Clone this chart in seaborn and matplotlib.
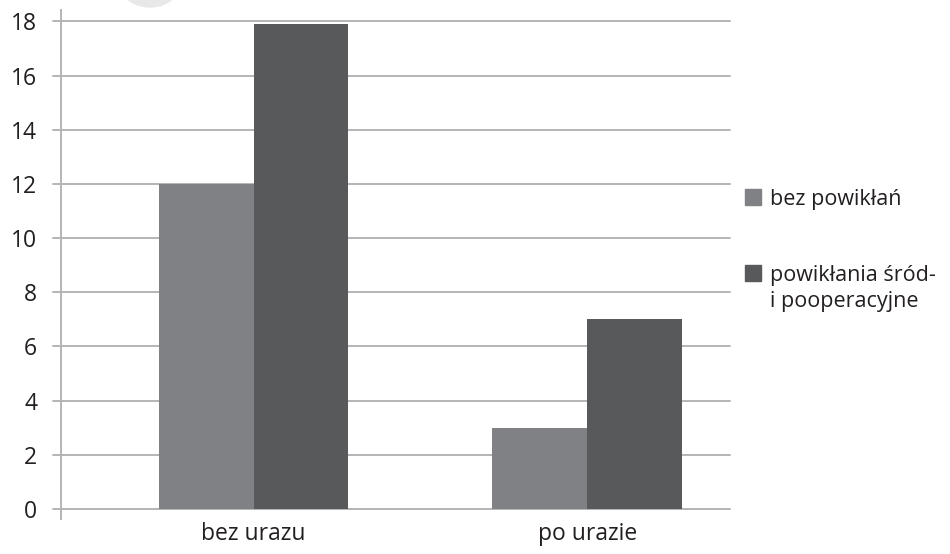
import pandas as pd
import seaborn as sns
import matplotlib.pyplot as plt
from matplotlib.lines import Line2D
from matplotlib.patches import Ellipse

# data
groups = ["bez urazu", "po urazie"]
series = ["bez powikłań", "powikłania śród-\ni pooperacyjne"]
no_compl = [12, 3]
with_compl = [17.9, 7]
yticks = [0, 2, 4, 6, 8, 10, 12, 14, 16, 18]

colors = ["#808184", "#58595b"]
grid_c = "#b4b4b8"

df = pd.DataFrame({
    "group": groups * 2,
    "status": [series[0]] * 2 + [series[1]] * 2,
    "count": no_compl + with_compl,
})

sns.set_style("white")
plt.rcParams["font.family"] = ["Open Sans", "DejaVu Sans"]

fig = plt.figure(figsize=(9.5, 5.54), dpi=100)
ax = fig.add_axes([0.0639, 0.0632, 0.7045, 0.9188])

sns.barplot(
    data=df, x="group", y="count", hue="status",
    palette=colors, saturation=1, width=0.569, gap=0,
    linewidth=0, legend=False, ax=ax, zorder=3,
)

ax.set_xlim(-0.578, 1.428)
ax.set_ylim(-0.37, 18.42)
ax.set_yticks(yticks)
ax.set_xlabel("")
ax.set_ylabel("")

# horizontal gridlines drawn from the left tick to the right end
for v in yticks:
    ax.axhline(v, xmin=-0.012, xmax=1, color=grid_c, lw=1.4, zorder=1, clip_on=False)

for s in ["top", "right", "bottom"]:
    ax.spines[s].set_visible(False)
ax.spines["left"].set_color(grid_c)
ax.spines["left"].set_linewidth(1.4)

ax.tick_params(axis="y", length=0, pad=17, labelsize=16.5, labelcolor="#231f20")
ax.tick_params(axis="x", length=0, pad=2, labelsize=16.5, labelcolor="#231f20")

handles = [Line2D([0], [0], marker="s", ls="", markersize=11, color=c) for c in colors]
leg = fig.legend(
    handles, series, loc="upper left", bbox_to_anchor=(0.7645, 0.693),
    frameon=False, fontsize=15.5, handlelength=0.7, handletextpad=0.45,
    labelspacing=2.55, labelcolor="#231f20",
)
leg.get_texts()[1].set_linespacing(1.3)
# keep each square level with the first line of its label
for col in leg._legend_handle_box.get_children():
    for row in col.get_children():
        row.align = "top"

# faint round mark at the top edge of the page
fig.patches.append(Ellipse((150 / 950, 1 + 29.5 / 554), 73 / 950, 73 / 554,
                           transform=fig.transFigure, color="#e8e8e8", zorder=0))

fig.savefig("out.png", dpi=100)
